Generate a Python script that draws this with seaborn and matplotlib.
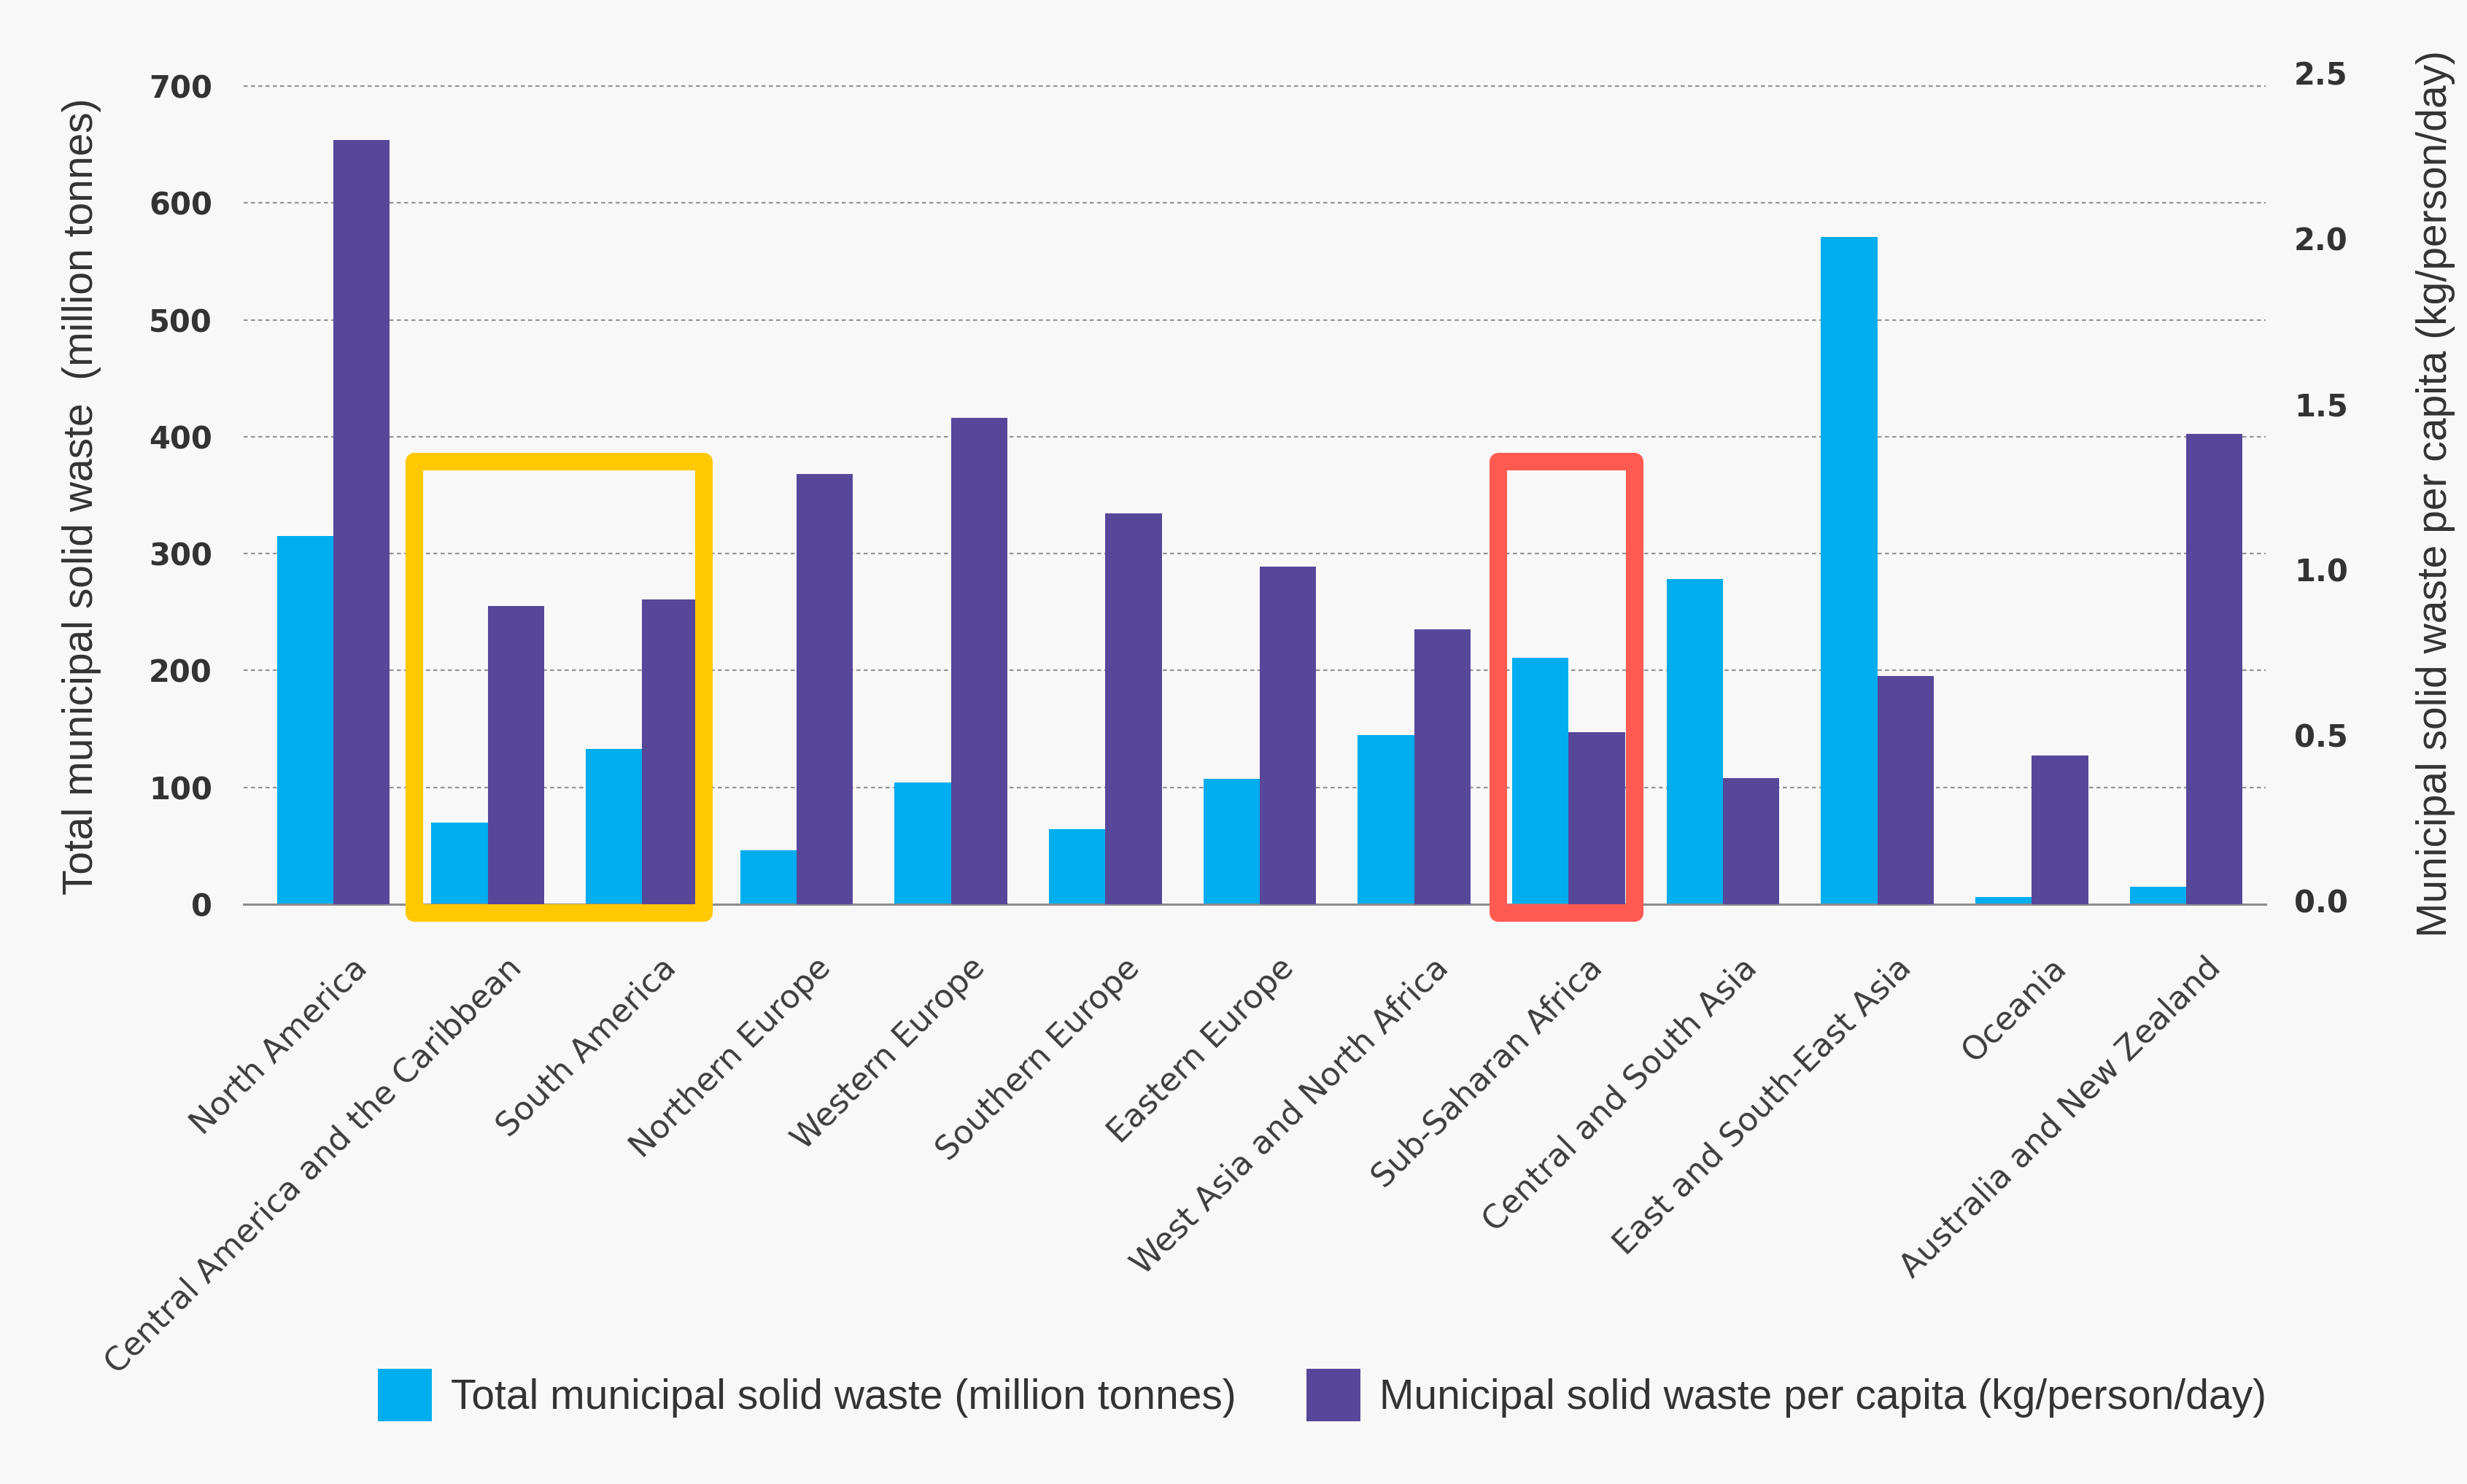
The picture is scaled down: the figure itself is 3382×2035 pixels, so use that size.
import numpy as np
import pandas as pd
import matplotlib
matplotlib.use("Agg")
import matplotlib.pyplot as plt
import seaborn as sns
from matplotlib.patches import Patch, Rectangle
from matplotlib.transforms import ScaledTranslation

# ---------------- data ----------------
regions = ["North America", "Central America and the Caribbean", "South America",
           "Northern Europe", "Western Europe", "Southern Europe", "Eastern Europe",
           "West Asia and North Africa", "Sub-Saharan Africa", "Central and South Asia",
           "East and South-East Asia", "Oceania", "Australia and New Zealand"]
total_msw = [315, 70, 133, 46, 104, 64, 107, 145, 211, 278, 571, 6, 15]
per_capita = [2.31, 0.90, 0.92, 1.30, 1.47, 1.18, 1.02, 0.83, 0.52, 0.38, 0.69, 0.45, 1.42]
left_ticks = [0, 100, 200, 300, 400, 500, 600, 700]
right_ticks = [0.0, 0.5, 1.0, 1.5, 2.0, 2.5]
right_tick_labels = ["0.0", "0.5", "1.0", "1.5", "2.0", "2.5"]
series_total = "Total municipal solid waste (million tonnes)"
series_pc = "Municipal solid waste per capita (kg/person/day)"
ylabel_left = "Total municipal solid waste  (million tonnes)"
ylabel_right = "Municipal solid waste per capita (kg/person/day)"
yellow_group = ["Central America and the Caribbean", "South America"]
red_group = ["Sub-Saharan Africa"]

# ---------------- style ----------------
BG = "#F8F8F8"
CYAN = "#00ADEE"
PURPLE = "#57479A"
YELLOW = "#FFC800"
RED = "#FF5A52"
TXT = "#333333"

sns.set_style("white")
plt.rcParams["font.family"] = ["DejaVu Sans"]

df_total = pd.DataFrame({"region": regions, "value": total_msw, "series": series_total})
df_pc = pd.DataFrame({"region": regions, "value": per_capita, "series": series_pc})
hue_order = [series_total, series_pc]

fig = plt.figure(figsize=(33.82, 20.35), dpi=100, facecolor=BG)
ax = fig.add_axes([0.0988, 0.3907, 0.8196, 0.5670])
ax.set_facecolor(BG)
ax2 = ax.twinx()

sns.barplot(data=df_total, x="region", y="value", hue="series", hue_order=hue_order,
            order=regions, palette=[CYAN, PURPLE], width=0.73, gap=0, dodge=True,
            saturation=1, legend=False, ax=ax, zorder=2, linewidth=0, edgecolor="none")
sns.barplot(data=df_pc, x="region", y="value", hue="series", hue_order=hue_order,
            order=regions, palette=[CYAN, PURPLE], width=0.73, gap=0, dodge=True,
            saturation=1, legend=False, ax=ax2, zorder=2, linewidth=0, edgecolor="none")

# scales
LEFT_TOP = 720
RATIO = 708 / 2.5
ax.set_ylim(0, LEFT_TOP)
ax2.set_ylim(0, LEFT_TOP / RATIO)
ax.set_xlim(-0.58, len(regions) - 1 + 0.515)

ax.set_yticks(left_ticks)
ax.set_yticklabels([str(t) for t in left_ticks])
ax2.set_yticks(right_ticks)
ax2.set_yticklabels(right_tick_labels)

for a in (ax, ax2):
    for s in a.spines.values():
        s.set_visible(False)
ax.spines["bottom"].set_visible(True)
ax.spines["bottom"].set_color("#8C8C8C")
ax.spines["bottom"].set_linewidth(2.2)
ax.spines["bottom"].set_zorder(5)

ax.tick_params(axis="y", length=0, pad=31, labelsize=30, labelcolor=TXT)
ax2.tick_params(axis="y", length=0, pad=28, labelsize=30, labelcolor=TXT)
for lbl in ax.get_yticklabels() + ax2.get_yticklabels():
    lbl.set_fontweight("bold")
for lbl in ax2.get_yticklabels():
    lbl.set_transform(lbl.get_transform() + ScaledTranslation(0, 0.05, fig.dpi_scale_trans))

# grid
ax.set_axisbelow(True)
ax.yaxis.grid(True, color="#959595", linewidth=1.6, linestyle=(0, (2.5, 2)))
ax2.grid(False)
ax.xaxis.grid(False)
gl = ax.get_ygridlines()
if gl:
    gl[0].set_visible(False)

# x tick labels
ax.set_xlabel("")
ax.set_ylabel("")
ax2.set_ylabel("")
ax.tick_params(axis="x", length=0, pad=58, labelsize=32, labelcolor="#3C3C3C")
ax.set_xticks(range(len(regions)))
ax.set_xticklabels(regions, rotation=45, ha="right", va="center", rotation_mode="anchor")
offset = ScaledTranslation(0.40, 0, fig.dpi_scale_trans)
for lbl in ax.get_xticklabels():
    lbl.set_transform(lbl.get_transform() + offset)

# axis titles
lab_font = ["Liberation Sans", "DejaVu Sans"]
ax.set_ylabel(ylabel_left, fontsize=41, color=TXT, family=lab_font, va="center")
ax.yaxis.set_label_coords(-0.0801, 0.485)
ax2.set_ylabel(ylabel_right, fontsize=41, color=TXT, family=lab_font, va="center", rotation=90)
ax2.yaxis.set_label_coords(1.0840, 0.488)

# highlight boxes (left-axis data units for y)
def box(names, dl, dr, color):
    idx = [regions.index(n) for n in names]
    x0 = min(idx) - dl
    x1 = max(idx) + dr
    y0, y1 = -7.5, 378.7
    r = Rectangle((x0, y0), x1 - x0, y1 - y0, fill=False, edgecolor=color,
                  linewidth=17.3, joinstyle="round", zorder=10, clip_on=False,
                  transform=ax.transData)
    ax2.add_artist(r)

box(yellow_group, 0.476, 0.40, YELLOW)
box(red_group, 0.456, 0.427, RED)

# legend
handles = [Patch(facecolor=CYAN, edgecolor="none", label=series_total),
           Patch(facecolor=PURPLE, edgecolor="none", label=series_pc)]
fig.legend(handles=handles, loc="center", bbox_to_anchor=(0.536, 0.060), ncol=2,
           frameon=False, prop={"family": lab_font, "size": 41},
           handlelength=1.3, handleheight=1.55, handletextpad=0.45,
           columnspacing=1.7, labelcolor=TXT)

fig.savefig("out.png", dpi=100, facecolor=BG)
